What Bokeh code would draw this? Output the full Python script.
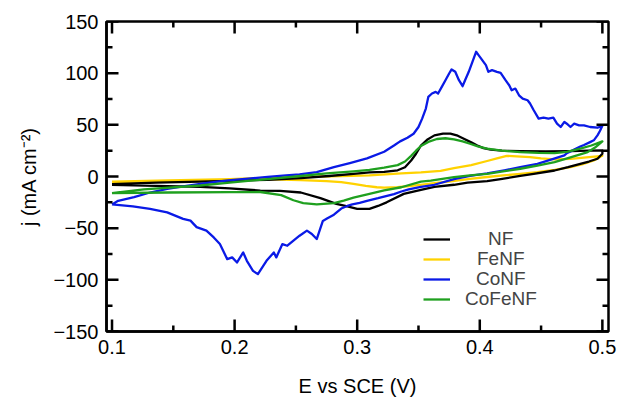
from bokeh.plotting import figure
from bokeh.models import (Range1d, LinearAxis, FixedTicker, CustomJSTickFormatter,
                          Legend, LegendItem)
from bokeh.embed import file_html
from bokeh.resources import INLINE

# ---------------- data ----------------
# NF (black)
nf_fwd_v = [0.100, 0.136, 0.172, 0.227, 0.254, 0.277, 0.297, 0.310, 0.322, 0.333, 0.339,
            0.344, 0.348, 0.352, 0.357, 0.363, 0.370, 0.376, 0.382, 0.387, 0.393, 0.398,
            0.403, 0.409, 0.418, 0.433, 0.454, 0.474, 0.489, 0.500]
nf_fwd_j = [-7.5, -6.0, -5.0, -3.2, -1.5, 0.5, 2.5, 4.0, 4.5, 6.0, 9.0,
            15.5, 22.0, 30.0, 35.5, 39.8, 41.4, 41.4, 39.5, 36.6, 33.0, 30.0,
            27.5, 26.0, 25.0, 24.6, 24.4, 24.6, 25.0, 25.2]
nf_rev_v = [0.500, 0.496, 0.489, 0.482, 0.472, 0.461, 0.444, 0.433, 0.417, 0.406, 0.390,
            0.379, 0.363, 0.352, 0.338, 0.324, 0.317, 0.310, 0.300, 0.292, 0.283, 0.270,
            0.254, 0.237, 0.221, 0.196, 0.172, 0.136, 0.100]
nf_rev_j = [22.0, 17.2, 14.5, 12.3, 9.0, 5.8, 2.5, 0.5, -2.5, -4.5, -6.0,
            -8.0, -10.0, -12.9, -16.8, -25.0, -28.5, -31.4, -31.4, -29.0, -26.5, -21.0,
            -15.5, -14.0, -13.6, -11.5, -10.0, -9.0, -8.0]

# FeNF (yellow)
fenf_fwd_v = [0.100, 0.146, 0.196, 0.221, 0.254, 0.287, 0.310, 0.336, 0.352, 0.368, 0.379,
              0.393, 0.406, 0.414, 0.422, 0.430, 0.441, 0.450, 0.461, 0.474, 0.487, 0.500]
fenf_fwd_j = [-5.0, -3.8, -2.5, -1.5, -0.5, 0.5, 1.0, 3.0, 4.0, 5.5, 8.0,
              11.0, 15.0, 17.5, 20.0, 19.5, 18.7, 17.5, 16.5, 17.0, 18.5, 20.0]
fenf_rev_v = [0.500, 0.493, 0.484, 0.474, 0.461, 0.447, 0.433, 0.419, 0.406, 0.392, 0.378,
              0.363, 0.348, 0.333, 0.322, 0.316, 0.307, 0.297, 0.287, 0.275, 0.254, 0.221,
              0.196, 0.146, 0.100]
fenf_rev_j = [20.0, 15.5, 12.0, 9.0, 6.5, 4.2, 2.5, 1.0, -0.5, -2.3, -4.5,
              -6.5, -8.5, -10.4, -10.8, -10.4, -9.0, -7.1, -5.5, -4.5, -3.5, -2.5,
              -3.0, -4.5, -5.5]

# CoNF (blue)
conf_fwd_v = [0.100, 0.105, 0.118, 0.131, 0.145, 0.158, 0.172, 0.186, 0.199, 0.211, 0.227,
              0.242, 0.253, 0.267, 0.281, 0.294, 0.308, 0.322, 0.330, 0.335, 0.341, 0.346,
              0.350, 0.353, 0.356, 0.358, 0.361, 0.364, 0.366, 0.369, 0.372, 0.375, 0.377,
              0.380, 0.383, 0.386, 0.388, 0.391, 0.394, 0.397, 0.399, 0.402, 0.405, 0.407,
              0.410, 0.414, 0.417, 0.421, 0.424, 0.426, 0.429, 0.432, 0.435, 0.439, 0.441,
              0.444, 0.448, 0.452, 0.456, 0.460, 0.463, 0.466, 0.469, 0.471, 0.474, 0.477,
              0.481, 0.485, 0.490, 0.496, 0.500]
conf_fwd_j = [-27.0, -23.5, -20.0, -15.5, -12.0, -9.5, -7.1, -5.0, -3.2, -2.0, -0.5,
              1.0, 2.0, 4.2, 9.1, 13.0, 17.5, 24.0, 30.0, 34.0, 37.5, 41.4,
              47.9, 56.0, 65.7, 77.0, 80.3, 81.9, 80.3, 86.7, 93.2, 99.7, 103.6,
              101.3, 93.2, 87.4, 93.2, 101.3, 111.0, 120.7, 117.5, 112.6, 107.8, 101.3,
              102.9, 101.3, 100.3, 93.2, 88.3, 83.5, 85.1, 78.6, 75.4, 73.8, 70.6,
              64.1, 56.0, 57.0, 56.0, 57.0, 51.1, 47.9, 52.8, 51.1, 47.9, 51.1,
              49.5, 49.5, 47.9, 47.2, 49.0]
conf_rev_v = [0.500, 0.498, 0.496, 0.493, 0.490, 0.485, 0.482, 0.477, 0.471, 0.469, 0.460,
              0.447, 0.433, 0.420, 0.406, 0.392, 0.379, 0.363, 0.352, 0.342, 0.336, 0.330,
              0.317, 0.308, 0.302, 0.296, 0.292, 0.287, 0.281, 0.275, 0.272, 0.270, 0.267,
              0.263, 0.259, 0.253, 0.248, 0.243, 0.239, 0.234, 0.232, 0.226, 0.219, 0.215,
              0.210, 0.207, 0.202, 0.198, 0.194, 0.188, 0.183, 0.177, 0.169, 0.164, 0.158,
              0.145, 0.131, 0.117, 0.100]
conf_rev_j = [49.0, 44.0, 39.8, 35.0, 33.3, 30.5, 29.0, 26.0, 22.5, 20.4, 17.0,
              12.3, 9.0, 6.0, 3.0, 0.5, -2.5, -8.0, -10.0, -12.5, -14.5, -17.0,
              -21.0, -23.5, -25.5, -27.0, -28.5, -31.0, -37.0, -41.0, -43.0, -50.0, -60.5,
              -55.6, -52.4, -57.3, -62.0, -67.0, -65.4, -78.3, -73.5, -81.6, -94.5, -91.3,
              -81.6, -73.5, -83.2, -78.3, -80.0, -65.4, -59.0, -52.4, -49.0, -42.7, -41.0,
              -34.7, -31.4, -29.0, -27.0]

# CoFeNF (green)
cofenf_fwd_v = [0.100, 0.126, 0.172, 0.196, 0.229, 0.254, 0.275, 0.297, 0.310, 0.322, 0.333,
                0.339, 0.344, 0.348, 0.352, 0.358, 0.365, 0.372, 0.379, 0.386, 0.392, 0.399,
                0.406, 0.418, 0.433, 0.448, 0.461, 0.471, 0.482, 0.491, 0.500]
cofenf_fwd_j = [-16.0, -12.5, -8.7, -6.0, -2.3, 0.5, 3.0, 5.0, 6.5, 8.5, 11.0,
                14.5, 20.0, 25.0, 29.5, 33.5, 36.3, 37.0, 36.0, 34.0, 31.7, 29.0,
                27.0, 25.0, 23.6, 22.8, 22.6, 23.8, 26.9, 30.0, 34.0]
cofenf_rev_v = [0.500, 0.494, 0.488, 0.474, 0.461, 0.447, 0.433, 0.419, 0.406, 0.392, 0.379,
                0.360, 0.352, 0.336, 0.322, 0.310, 0.297, 0.289, 0.281, 0.267, 0.256, 0.248,
                0.238, 0.221, 0.196, 0.146, 0.100]
cofenf_rev_j = [34.0, 28.0, 23.6, 18.5, 13.9, 10.5, 7.5, 5.0, 2.6, 1.0, -0.6,
                -3.9, -5.0, -10.4, -13.5, -16.8, -20.5, -23.3, -25.8, -27.0, -25.7, -23.0,
                -18.0, -15.0, -15.2, -15.5, -16.0]

series_names = ["NF", "FeNF", "CoNF", "CoFeNF"]
series_colors = ["#000000", "#FFD200", "#0A1AE6", "#1FA01F"]

x_ticks = [0.1, 0.2, 0.3, 0.4, 0.5]
x_minor_ticks = [0.15, 0.25, 0.35, 0.45]
y_ticks = [-150, -100, -50, 0, 50, 100, 150]
y_minor_ticks = [-125, -75, -25, 25, 75, 125]
x_lo, x_hi = 0.0955, 0.5050
y_lo, y_hi = -150, 150

FONT = "Liberation Sans"
W, H = 621, 402
B_LEFT, B_RIGHT, B_TOP, B_BOTTOM = 106, 13, 21, 71
FRAME_W = W - B_LEFT - B_RIGHT
FRAME_H = H - B_TOP - B_BOTTOM
MAJOR_LEN, MINOR_LEN = 12, 6  # tick lengths in pixels

# ---------------- figure ----------------
p = figure(width=W, height=H, output_backend="svg", toolbar_location=None,
           x_range=Range1d(x_lo, x_hi), y_range=Range1d(y_lo, y_hi),
           x_axis_location=None, y_axis_location=None)
p.min_border_left = B_LEFT
p.min_border_right = B_RIGHT
p.min_border_top = B_TOP
p.min_border_bottom = B_BOTTOM
p.grid.visible = False
p.outline_line_color = "black"
p.outline_line_width = 2.5
p.background_fill_color = "white"
p.border_fill_color = "white"

x_fmt = CustomJSTickFormatter(code="return tick.toFixed(1);")
y_fmt = CustomJSTickFormatter(code="return tick < 0 ? '\u2212' + (-tick) : String(tick);")


def make_axis(ticks, fmt, label):
    ax = LinearAxis(ticker=FixedTicker(ticks=ticks, minor_ticks=[]), formatter=fmt)
    ax.major_tick_in = 0
    ax.major_tick_out = 0
    ax.minor_tick_in = 0
    ax.minor_tick_out = 0
    ax.axis_line_width = 2.5
    ax.axis_line_color = "black"
    ax.major_label_text_font = FONT
    ax.major_label_text_color = "black"
    ax.major_label_standoff = 8
    ax.major_label_text_font_size = "20px"
    ax.axis_label = label
    ax.axis_label_text_font = FONT
    ax.axis_label_text_font_size = "20px"
    ax.axis_label_text_font_style = "normal"
    ax.axis_label_text_color = "black"
    return ax


xb = make_axis(x_ticks, x_fmt, "E vs SCE (V)")
xb.axis_label_standoff = 18
yl = make_axis(y_ticks, y_fmt, "j (mA cm\u207b\u00b2)")
yl.axis_label_standoff = 10
p.add_layout(xb, "below")
p.add_layout(yl, "left")

fwd_v = [nf_fwd_v, fenf_fwd_v, conf_fwd_v, cofenf_fwd_v]
fwd_j = [nf_fwd_j, fenf_fwd_j, conf_fwd_j, cofenf_fwd_j]
rev_v = [nf_rev_v, fenf_rev_v, conf_rev_v, cofenf_rev_v]
rev_j = [nf_rev_j, fenf_rev_j, conf_rev_j, cofenf_rev_j]

renderers = {}
for i in [1, 0, 2, 3]:
    r = p.line(fwd_v[i] + rev_v[i], fwd_j[i] + rev_j[i], line_color=series_colors[i],
               line_width=2.3, line_join="round")
    renderers[series_names[i]] = r

# inward tick marks on all four sides, built from the tick lists
dy_per_px = (y_hi - y_lo) / FRAME_H
dx_per_px = (x_hi - x_lo) / FRAME_W
tick_xs, tick_ys = [], []
for ticks, length in [(x_ticks, MAJOR_LEN), (x_minor_ticks, MINOR_LEN)]:
    for t in ticks:
        tick_xs += [[t, t], [t, t]]
        tick_ys += [[y_lo, y_lo + length * dy_per_px], [y_hi, y_hi - length * dy_per_px]]
for ticks, length in [(y_ticks, MAJOR_LEN), (y_minor_ticks, MINOR_LEN)]:
    for t in ticks:
        tick_xs += [[x_lo, x_lo + length * dx_per_px], [x_hi, x_hi - length * dx_per_px]]
        tick_ys += [[t, t], [t, t]]
p.multi_line(tick_xs, tick_ys, line_color="black", line_width=2.5, line_cap="butt")

# one legend per entry so that each label can be centred like the reference
legend_offsets = {"NF": (38, 81), "FeNF": (27, 61), "CoNF": (26, 41), "CoFeNF": (15, 21)}
for n in series_names:
    standoff, vy = legend_offsets[n]
    lg = Legend(items=[LegendItem(label=n, renderers=[renderers[n]])],
                location=(317, vy), orientation="vertical", padding=0, margin=0,
                spacing=0, glyph_width=27, glyph_height=16, label_height=16,
                label_standoff=standoff,
                label_text_font=FONT, label_text_font_size="19px",
                border_line_color=None, background_fill_alpha=0)
    p.add_layout(lg)

open("out.html", "w", encoding="utf-8").write(file_html(p, INLINE))
